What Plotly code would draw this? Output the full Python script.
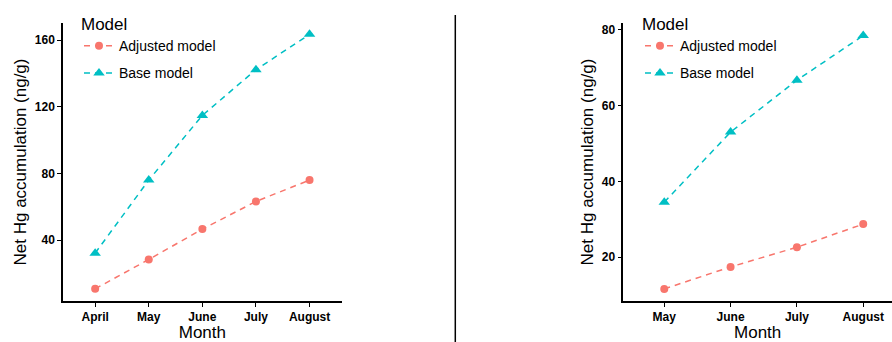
import plotly.graph_objects as go

# ---- data ----
months_left = ["April", "May", "June", "July", "August"]
adjusted_left = [10.8, 28.4, 46.6, 63.2, 76.0]
base_left = [32.2, 76.0, 114.8, 142.2, 163.4]

months_right = ["May", "June", "July", "August"]
adjusted_right = [11.6, 17.4, 22.6, 28.7]
base_right = [34.5, 53.0, 66.7, 78.5]

yticks_left = [40, 80, 120, 160]
yticks_right = [20, 40, 60, 80]

RED = "#F8766D"
TEAL = "#00BFC4"
W, H = 892, 342
FONT = "Liberation Sans, Arial, sans-serif"

fig = go.Figure()

def add_panel(months, adj, base, xa, ya, legend):
    fig.add_trace(go.Scatter(x=months, y=adj, mode="lines+markers", name="Adjusted model",
                             line=dict(color=RED, dash="6px,5px", width=1.5),
                             marker=dict(symbol="circle", size=8, color=RED),
                             xaxis=xa, yaxis=ya, legend=legend, legendgroup=legend + "a"))
    fig.add_trace(go.Scatter(x=months, y=base, mode="lines+markers", name="Base model",
                             line=dict(color=TEAL, dash="6px,5px", width=1.5),
                             marker=dict(symbol="triangle-up", size=10, color=TEAL),
                             xaxis=xa, yaxis=ya, legend=legend, legendgroup=legend + "b"))

add_panel(months_left, adjusted_left, base_left, "x", "y", "legend")
add_panel(months_right, adjusted_right, base_right, "x2", "y2", "legend2")

axis_common = dict(showline=True, linecolor="black", linewidth=1.5, ticks="outside",
                   ticklen=4, tickcolor="black", tickwidth=1, showgrid=False, zeroline=False,
                   tickfont=dict(family=FONT, size=12, color="black", weight="bold"),
                   automargin=False)

ybot = (H - 301) / H
ytop = (H - 23) / H

fig.update_layout(
    width=W, height=H, margin=dict(l=0, r=0, t=0, b=0),
    plot_bgcolor="white", paper_bgcolor="white",
    font=dict(family=FONT, color="black"),
    xaxis=dict(domain=[63 / W, 341.7 / W], type="category", categoryarray=months_left,
               range=[-0.6, 4.6], anchor="y",
               title=dict(text="Month", font=dict(size=17), standoff=5), **axis_common),
    yaxis=dict(domain=[ybot, ytop], range=[3.5, 170.2], tickvals=yticks_left, anchor="x",
               title=dict(text="Net Hg accumulation (ng/g)", font=dict(size=17), standoff=4),
               **axis_common),
    xaxis2=dict(domain=[623.3 / W, 1.0], type="category", categoryarray=months_right,
                range=[-0.618, 3.434], anchor="y2",
                title=dict(text="Month", font=dict(size=17), standoff=5), **axis_common),
    yaxis2=dict(domain=[ybot, ytop], range=[8.4, 81.8], tickvals=yticks_right, anchor="x2",
                title=dict(text="Net Hg accumulation (ng/g)", font=dict(size=17), standoff=4),
                **axis_common),
    legend=dict(x=79 / W, y=1 - 8 / H, xanchor="left", yanchor="top",
                title=dict(text="Model", font=dict(size=17)), font=dict(size=14),
                bgcolor="rgba(0,0,0,0)", traceorder="grouped", tracegroupgap=6),
    legend2=dict(x=640 / W, y=1 - 8 / H, xanchor="left", yanchor="top",
                 title=dict(text="Model", font=dict(size=17)), font=dict(size=14),
                 bgcolor="rgba(0,0,0,0)", traceorder="grouped", tracegroupgap=6),
    shapes=[dict(type="line", xref="paper", yref="paper", x0=455.3 / W, x1=455.3 / W,
                 y0=0, y1=(H - 15) / H, line=dict(color="black", width=1.5))],
)

fig.write_html("out.html")
